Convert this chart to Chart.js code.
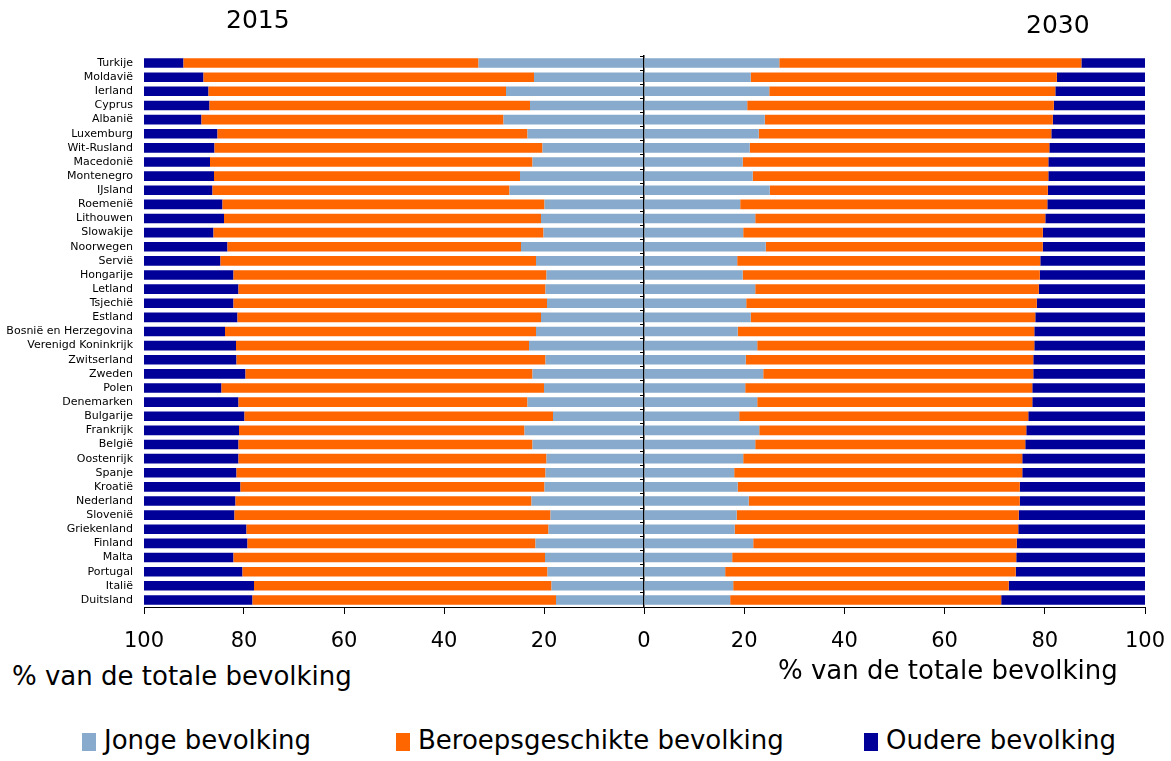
<!DOCTYPE html>
<html lang="nl">
<head>
<meta charset="utf-8">
<title>Bevolking naar leeftijdsgroep 2015 en 2030</title>
<script src="https://cdn.jsdelivr.net/npm/chart.js"></script>
<style>
  html, body { margin: 0; padding: 0; background: #fff; }
  body { width: 1171px; height: 761px; position: relative; overflow: hidden;
         font-family: "DejaVu Sans", Verdana, sans-serif; color: #000; }
  canvas { position: absolute; top: 0; }
  #left { left: 0; }
  #right { left: 640px; }
  .txt { position: absolute; white-space: nowrap; line-height: 30px; }
  .year { font-size: 25px; }
  .axis-title { font-size: 26px; }
  .legend { position: absolute; top: 725px; font-size: 26px; line-height: 30px; white-space: nowrap; }
  .legend span.box { display: inline-block; width: 14px; height: 18px; vertical-align: -2px; margin-right: 8px; }
</style>
</head>
<body>
<canvas id="left" width="660" height="660"></canvas>
<canvas id="right" width="540" height="660"></canvas>

<div class="txt year" style="left:226px; top:5px;">2015</div>
<div class="txt year" style="left:1026px; top:10px;">2030</div>
<div class="txt axis-title" style="left:12px; top:661px;">% van de totale bevolking</div>
<div class="txt axis-title" style="left:778px; top:655px;">% van de totale bevolking</div>

<div class="legend" style="left:82px;"><span class="box" style="background:#88aacc"></span>Jonge bevolking</div>
<div class="legend" style="left:396px;"><span class="box" style="background:#ff6600"></span>Beroepsgeschikte bevolking</div>
<div class="legend" style="left:864px;"><span class="box" style="background:#000099"></span>Oudere bevolking</div>

<script>
const countries = [
  "Turkije", "Moldavië", "Ierland", "Cyprus", "Albanië", "Luxemburg", "Wit-Rusland",
  "Macedonië", "Montenegro", "IJsland", "Roemenië", "Lithouwen", "Slowakije", "Noorwegen",
  "Servië", "Hongarije", "Letland", "Tsjechië", "Estland", "Bosnië en Herzegovina",
  "Verenigd Koninkrijk", "Zwitserland", "Zweden", "Polen", "Denemarken", "Bulgarije",
  "Frankrijk", "België", "Oostenrijk", "Spanje", "Kroatië", "Nederland", "Slovenië",
  "Griekenland", "Finland", "Malta", "Portugal", "Italië", "Duitsland"
];

const young2015 = [33.1, 22.0, 27.6, 22.8, 28.1, 23.3, 20.3, 22.3, 24.8, 26.9, 19.9, 20.6, 20.1, 24.6,
  21.6, 19.5, 19.7, 19.4, 20.6, 21.6, 23.0, 19.7, 22.3, 20.0, 23.3, 18.2, 23.9, 22.3, 19.5,
  19.7, 19.9, 22.5, 18.7, 19.1, 21.7, 19.8, 19.3, 18.5, 17.6];
const work2015 = [59.0, 66.1, 59.5, 64.1, 60.4, 62.0, 65.6, 64.5, 61.2, 59.4, 64.4, 63.4, 66.0, 58.7,
  63.1, 62.6, 61.4, 62.7, 60.7, 62.2, 58.6, 61.8, 57.4, 64.5, 57.8, 61.7, 57.1, 58.8, 61.6,
  61.8, 60.8, 59.2, 63.2, 60.4, 57.6, 62.3, 61.0, 59.5, 60.7];
const old2015 = [7.9, 11.9, 12.9, 13.1, 11.5, 14.7, 14.1, 13.2, 14.0, 13.7, 15.7, 16.0, 13.9, 16.7,
  15.3, 17.9, 18.9, 17.9, 18.7, 16.2, 18.4, 18.5, 20.3, 15.5, 18.9, 20.1, 19.0, 18.9, 18.9,
  18.5, 19.3, 18.3, 18.1, 20.5, 20.7, 17.9, 19.7, 22.0, 21.7];

const young2030 = [27.0, 21.3, 25.0, 20.6, 24.1, 22.9, 21.1, 19.7, 21.7, 25.1, 19.2, 22.2, 19.8, 24.3,
  18.6, 19.7, 22.2, 20.4, 21.3, 18.7, 22.6, 20.3, 23.8, 20.2, 22.6, 19.0, 23.0, 22.2, 19.8,
  18.0, 18.7, 20.9, 18.5, 18.1, 21.8, 17.6, 16.2, 17.8, 17.2];
const work2030 = [60.3, 61.1, 57.1, 61.2, 57.5, 58.4, 59.8, 61.0, 59.0, 55.5, 61.3, 57.9, 59.8, 55.3,
  60.5, 59.3, 56.6, 58.0, 56.8, 59.2, 55.3, 57.4, 53.9, 57.3, 54.9, 57.7, 53.3, 53.9, 55.7,
  57.5, 56.3, 54.1, 56.3, 56.6, 52.6, 56.7, 58.0, 55.0, 54.1];
const old2030 = [12.7, 17.6, 17.9, 18.2, 18.4, 18.7, 19.1, 19.3, 19.3, 19.4, 19.5, 19.9, 20.4, 20.4,
  20.9, 21.0, 21.2, 21.6, 21.9, 22.1, 22.1, 22.3, 22.3, 22.5, 22.5, 23.3, 23.7, 23.9, 24.5,
  24.5, 25.0, 25.0, 25.2, 25.3, 25.6, 25.7, 25.8, 27.2, 28.7];

const seriesNames = ["Jonge bevolking", "Beroepsgeschikte bevolking", "Oudere bevolking"];
const seriesColors = ["#88aacc", "#ff6600", "#000099"];

function makeDatasets(young, work, old) {
  return [young, work, old].map((data, i) => ({
    label: seriesNames[i],
    data,
    backgroundColor: seriesColors[i],
    borderWidth: 0,
    barPercentage: 0.68,
    categoryPercentage: 1,
  }));
}

function xAxis(reverse, hideZero) {
  return {
    stacked: true,
    min: 0,
    max: 100,
    reverse,
    border: { display: true, color: "#000", width: 1 },
    grid: { drawOnChartArea: false, drawTicks: true, tickLength: 7, color: "#000" },
    ticks: {
      stepSize: 20,
      padding: 15,
      color: "#000",
      font: { family: "DejaVu Sans", size: 21 },
      maxRotation: 0,
      callback: (v) => (hideZero && v === 0 ? "" : v),
    },
    // keep edge labels from squeezing the plot; they hang into the layout padding
    afterFit: (scale) => {
      scale.height = 53;
      scale.paddingLeft = 0;
      scale.paddingRight = 0;
    },
  };
}

const baseOptions = {
  responsive: false,
  animation: false,
  indexAxis: "y",
  plugins: { legend: { display: false }, title: { display: false }, tooltip: { enabled: false } },
};

new Chart(document.getElementById("left"), {
  type: "bar",
  data: { labels: countries, datasets: makeDatasets(young2015, work2015, old2015) },
  options: {
    ...baseOptions,
    layout: { padding: { top: 56, right: 16, left: 0, bottom: 0 } },
    scales: {
      x: xAxis(true, false),
      y: {
        stacked: true,
        border: { display: false },
        grid: { display: false, drawTicks: false },
        ticks: { padding: 11, color: "#000", font: { family: "DejaVu Sans", size: 11 }, autoSkip: false },
        afterFit: (scale) => { scale.width = 144; },
      },
    },
  },
});

new Chart(document.getElementById("right"), {
  type: "bar",
  data: { labels: countries, datasets: makeDatasets(young2030, work2030, old2030) },
  options: {
    ...baseOptions,
    layout: { padding: { top: 56, right: 35, left: 0, bottom: 0 } },
    scales: {
      x: xAxis(false, true),
      y: {
        stacked: true,
        border: { display: true, color: "#000", width: 1.5 },
        grid: { drawOnChartArea: false, drawTicks: true, tickLength: 4, color: "#000" },
        ticks: { display: false, autoSkip: false },
        afterFit: (scale) => { scale.width = 4; },
      },
    },
  },
});
</script>
</body>
</html>
